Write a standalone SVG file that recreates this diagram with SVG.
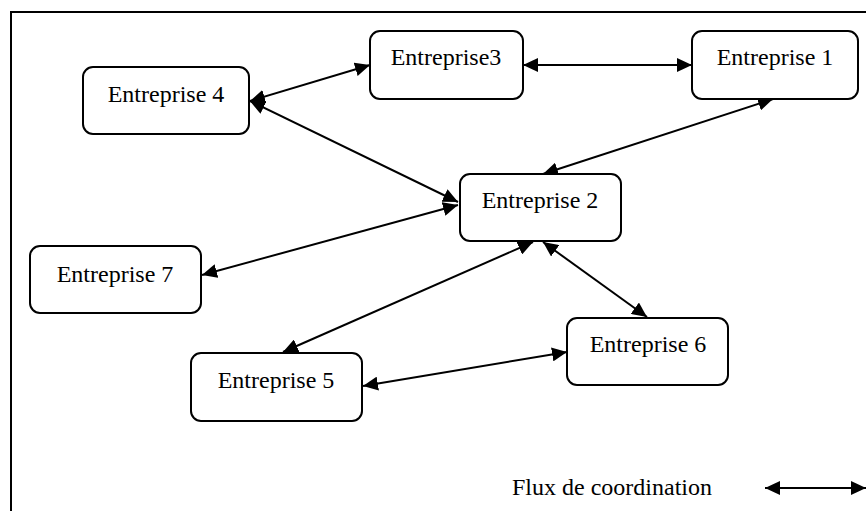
<svg xmlns="http://www.w3.org/2000/svg" width="866" height="511" viewBox="0 0 866 511">
<defs>
<marker id="ah" viewBox="0 0 15 14" refX="15" refY="7" markerWidth="15" markerHeight="14" markerUnits="userSpaceOnUse" orient="auto-start-reverse">
<path d="M0,0 L15,7 L0,14 Z" fill="#000"/>
</marker>
</defs>
<style>
.box{fill:#fff;stroke:#000;stroke-width:2}
.lbl{font-family:"Liberation Serif","Times New Roman",serif;font-size:24px;fill:#000;text-anchor:middle}
.c{stroke:#000;stroke-width:2;fill:none;marker-start:url(#ah);marker-end:url(#ah)}
</style>
<rect x="0" y="0" width="866" height="511" fill="#fff"/>
<rect x="11" y="12" width="862" height="510" fill="none" stroke="#000" stroke-width="2"/>
<g id="connectors">
<line class="c" x1="250" y1="101" x2="370" y2="65"/>
<line class="c" x1="250" y1="101" x2="458" y2="202"/>
<line class="c" x1="202" y1="275" x2="458" y2="205"/>
<line class="c" x1="523" y1="65" x2="692" y2="65"/>
<line class="c" x1="543" y1="174" x2="773" y2="99"/>
<line class="c" x1="533" y1="242" x2="283" y2="352"/>
<line class="c" x1="543" y1="242" x2="647" y2="317"/>
<line class="c" x1="363" y1="386" x2="567" y2="352"/>
</g>
<g id="n4"><rect class="box" x="83" y="67" width="166" height="67" rx="10"/><text class="lbl" x="166" y="102">Entreprise 4</text></g>
<g id="n3"><rect class="box" x="370" y="31" width="153" height="68" rx="10"/><text class="lbl" x="446" y="65">Entreprise3</text></g>
<g id="n1"><rect class="box" x="692" y="31" width="166" height="68" rx="10"/><text class="lbl" x="775" y="65">Entreprise 1</text></g>
<g id="n2"><rect class="box" x="460" y="174" width="161" height="67" rx="10"/><text class="lbl" x="540" y="208">Entreprise 2</text></g>
<g id="n7"><rect class="box" x="30" y="246" width="171" height="67" rx="10"/><text class="lbl" x="115" y="282">Entreprise 7</text></g>
<g id="n5"><rect class="box" x="191" y="353" width="171" height="68" rx="10"/><text class="lbl" x="276" y="388">Entreprise 5</text></g>
<g id="n6"><rect class="box" x="567" y="318" width="161" height="67" rx="10"/><text class="lbl" x="648" y="352">Entreprise 6</text></g>
<g id="legend">
<text class="lbl" x="612" y="495">Flux de coordination</text>
<line class="c" x1="765" y1="488" x2="866" y2="488"/>
</g>
</svg>
